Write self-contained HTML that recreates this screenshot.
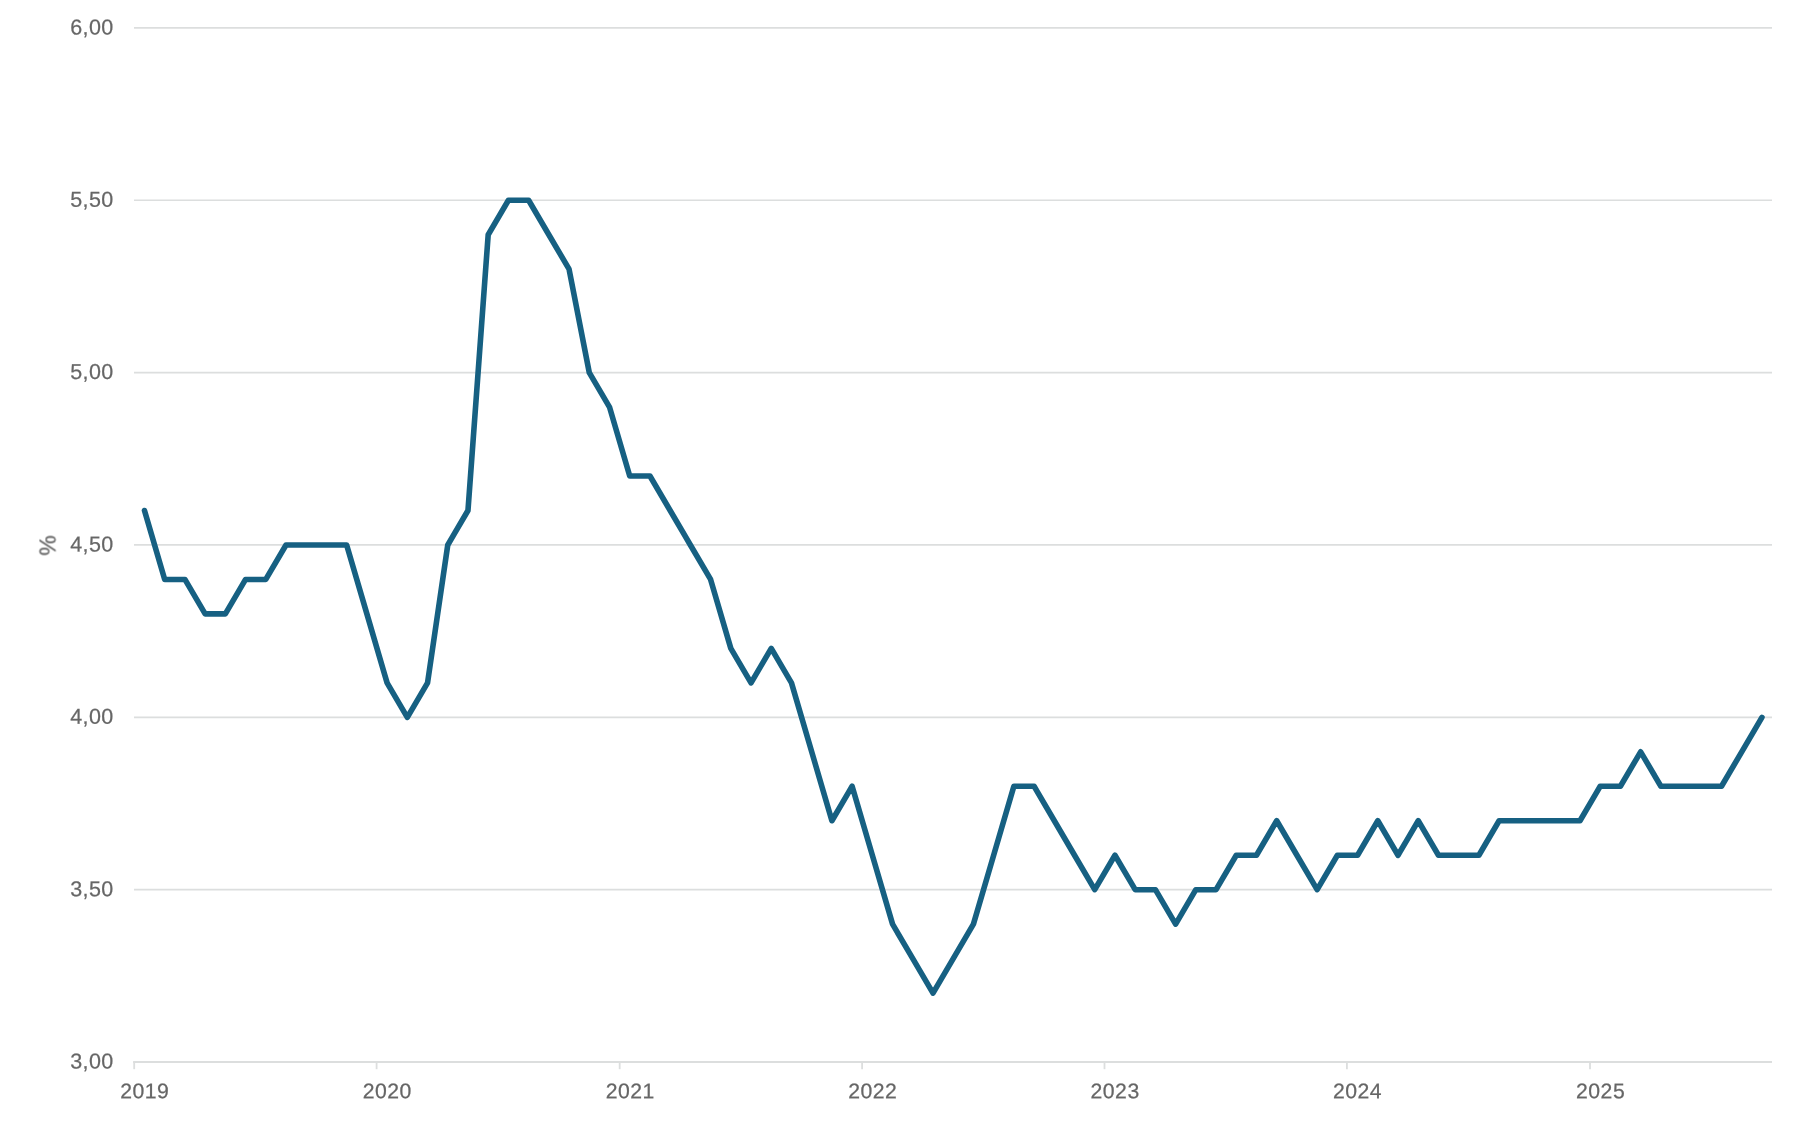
<!DOCTYPE html>
<html lang="en"><head><meta charset="utf-8"><title>Chart</title>
<style>
html,body{margin:0;padding:0;background:#fff;}
body{width:1800px;height:1121px;overflow:hidden;}
svg{display:block;}
text{font-family:"Liberation Sans",sans-serif;fill:#666;stroke:#666;stroke-width:0.25px;text-rendering:geometricPrecision;}
</style></head><body>
<svg width="1800" height="1121" viewBox="0 0 1800 1121">
<rect width="1800" height="1121" fill="#fff"/>
<g style="filter:blur(0.35px)">

<g stroke="#dcdede" stroke-width="1.7" fill="none">
<line x1="134.0" y1="27.90" x2="1772.0" y2="27.90"/>
<line x1="134.0" y1="200.26" x2="1772.0" y2="200.26"/>
<line x1="134.0" y1="372.61" x2="1772.0" y2="372.61"/>
<line x1="134.0" y1="544.97" x2="1772.0" y2="544.97"/>
<line x1="134.0" y1="717.33" x2="1772.0" y2="717.33"/>
<line x1="134.0" y1="889.68" x2="1772.0" y2="889.68"/>
</g>
<g stroke="#dcdede" stroke-width="2" fill="none">
<line x1="133.1" y1="1062.04" x2="1772.0" y2="1062.04"/>
</g><g stroke="#dcdede" stroke-width="1.8" fill="none">
<line x1="134.19" y1="1062.04" x2="134.19" y2="1069.2"/>
<line x1="376.60" y1="1062.04" x2="376.60" y2="1069.2"/>
<line x1="619.68" y1="1062.04" x2="619.68" y2="1069.2"/>
<line x1="862.10" y1="1062.04" x2="862.10" y2="1069.2"/>
<line x1="1104.51" y1="1062.04" x2="1104.51" y2="1069.2"/>
<line x1="1346.92" y1="1062.04" x2="1346.92" y2="1069.2"/>
<line x1="1590.00" y1="1062.04" x2="1590.00" y2="1069.2"/>
</g>
<text transform="translate(113.6,34.40) rotate(0.03)" font-size="21.5" text-anchor="end" letter-spacing="0.36">6,00</text>
<text transform="translate(113.6,206.76) rotate(0.03)" font-size="21.5" text-anchor="end" letter-spacing="0.36">5,50</text>
<text transform="translate(113.6,379.11) rotate(0.03)" font-size="21.5" text-anchor="end" letter-spacing="0.36">5,00</text>
<text transform="translate(113.6,551.47) rotate(0.03)" font-size="21.5" text-anchor="end" letter-spacing="0.36">4,50</text>
<text transform="translate(113.6,723.83) rotate(0.03)" font-size="21.5" text-anchor="end" letter-spacing="0.36">4,00</text>
<text transform="translate(113.6,896.18) rotate(0.03)" font-size="21.5" text-anchor="end" letter-spacing="0.36">3,50</text>
<text transform="translate(113.6,1068.54) rotate(0.03)" font-size="21.5" text-anchor="end" letter-spacing="0.36">3,00</text>
<text transform="translate(144.79,1098.15) rotate(0.03)" font-size="21.2" text-anchor="middle" letter-spacing="0.5">2019</text>
<text transform="translate(387.20,1098.15) rotate(0.03)" font-size="21.2" text-anchor="middle" letter-spacing="0.5">2020</text>
<text transform="translate(630.28,1098.15) rotate(0.03)" font-size="21.2" text-anchor="middle" letter-spacing="0.5">2021</text>
<text transform="translate(872.70,1098.15) rotate(0.03)" font-size="21.2" text-anchor="middle" letter-spacing="0.5">2022</text>
<text transform="translate(1115.11,1098.15) rotate(0.03)" font-size="21.2" text-anchor="middle" letter-spacing="0.5">2023</text>
<text transform="translate(1357.52,1098.15) rotate(0.03)" font-size="21.2" text-anchor="middle" letter-spacing="0.5">2024</text>
<text transform="translate(1600.60,1098.15) rotate(0.03)" font-size="21.2" text-anchor="middle" letter-spacing="0.5">2025</text>
<text transform="translate(55.45,545.5) rotate(-90)" font-size="23.1" text-anchor="middle">%</text>
<path d="M144.48,510.50 L164.70,579.44 L184.92,579.44 L205.14,613.91 L225.35,613.91 L245.57,579.44 L265.79,579.44 L286.01,544.97 L306.23,544.97 L326.45,544.97 L346.66,544.97 L366.88,613.91 L387.10,682.86 L407.32,717.33 L427.54,682.86 L447.76,544.97 L467.97,510.50 L488.19,234.73 L508.41,200.26 L528.63,200.26 L548.85,234.73 L569.07,269.20 L589.28,372.61 L609.50,407.08 L629.72,476.03 L649.94,476.03 L670.16,510.50 L690.38,544.97 L710.60,579.44 L730.81,648.38 L751.03,682.86 L771.25,648.38 L791.47,682.86 L811.69,751.80 L831.91,820.74 L852.12,786.27 L872.34,855.21 L892.56,924.15 L912.78,958.63 L933.00,993.10 L953.22,958.63 L973.43,924.15 L993.65,855.21 L1013.87,786.27 L1034.09,786.27 L1054.31,820.74 L1074.53,855.21 L1094.74,889.68 L1114.96,855.21 L1135.18,889.68 L1155.40,889.68 L1175.62,924.15 L1195.84,889.68 L1216.06,889.68 L1236.27,855.21 L1256.49,855.21 L1276.71,820.74 L1296.93,855.21 L1317.15,889.68 L1337.37,855.21 L1357.58,855.21 L1377.80,820.74 L1398.02,855.21 L1418.24,820.74 L1438.46,855.21 L1458.68,855.21 L1478.89,855.21 L1499.11,820.74 L1519.33,820.74 L1539.55,820.74 L1559.77,820.74 L1579.99,820.74 L1600.20,786.27 L1620.42,786.27 L1640.64,751.80 L1660.86,786.27 L1681.08,786.27 L1701.30,786.27 L1721.52,786.27 L1741.73,751.80 L1761.95,717.33" fill="none" stroke="#166082" stroke-width="5.6" stroke-linejoin="round" stroke-linecap="round"/>
</g></svg></body></html>
